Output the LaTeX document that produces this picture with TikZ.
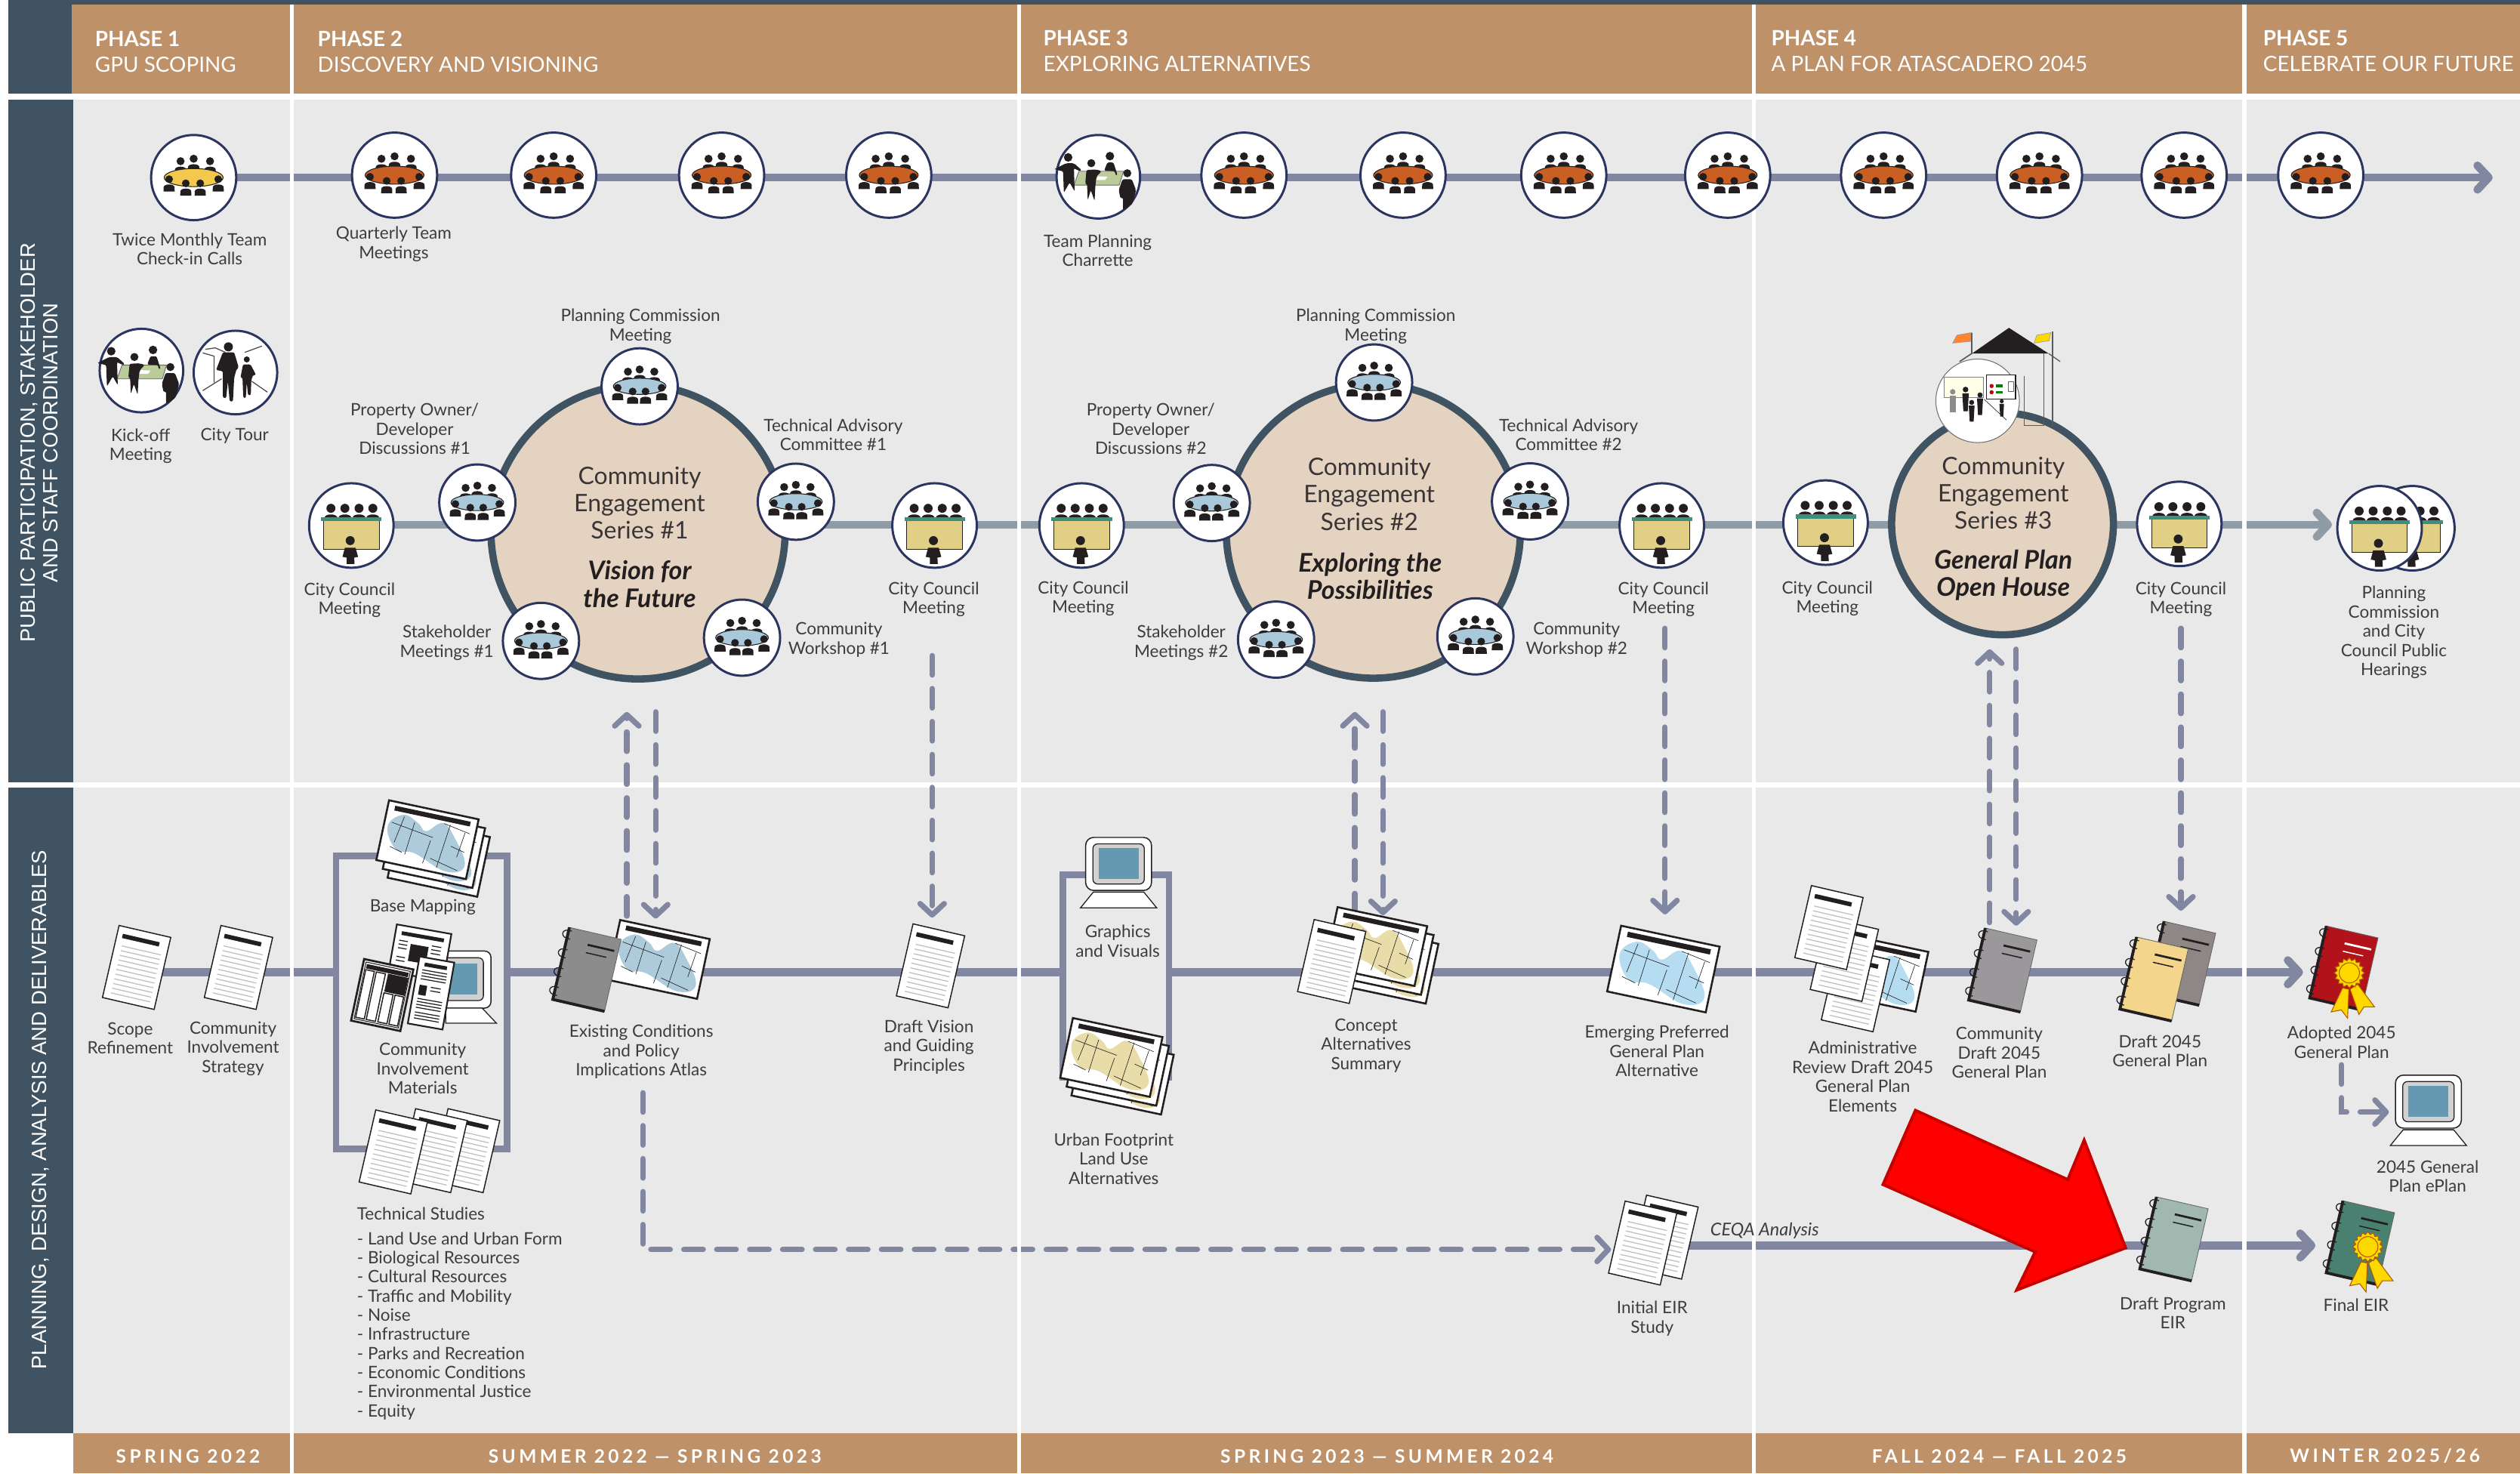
\documentclass[tikz,border=0pt]{standalone}
\usepackage{fontspec}
\setmainfont{Lato}
\newfontfamily\spacedfont[LetterSpace=18]{Lato}
\newfontfamily\sidefont{Liberation Sans}
\usetikzlibrary{arrows.meta,shapes.geometric}
\pgfdeclarelayer{panel}\pgfdeclarelayer{wire}\pgfdeclarelayer{stripe}
\pgfsetlayers{panel,wire,stripe,main}
\definecolor{ink}{HTML}{231F20}
\definecolor{navy}{HTML}{2B3560}
\definecolor{slate}{HTML}{3F5362}
\definecolor{tan}{HTML}{BE9169}
\definecolor{sand}{HTML}{E5D3C1}
\definecolor{pane}{HTML}{E9E9E9}
\definecolor{wirecol}{HTML}{8187A1}
\definecolor{wiregrey}{HTML}{8F9BA5}
\definecolor{labtext}{HTML}{3C3D40}
\definecolor{tyellow}{HTML}{F2C94C}
\definecolor{torange}{HTML}{C95F22}
\definecolor{tblue}{HTML}{A9C9DA}
\definecolor{khaki}{HTML}{E0CF85}
\definecolor{teal1}{HTML}{3F8F7F}
\definecolor{mapblue}{HTML}{AECBDC}
\definecolor{mapsky}{HTML}{B5DCF0}
\definecolor{mapyel}{HTML}{E8DCA8}
\definecolor{screen}{HTML}{6599B1}
\definecolor{gold}{HTML}{FFD800}
\definecolor{bkatlas}{HTML}{8C8C8C}
\definecolor{bkcd}{HTML}{9A989B}
\definecolor{bkdb}{HTML}{8F8686}
\definecolor{bkdf}{HTML}{F3D68B}
\definecolor{bkad}{HTML}{B21219}
\definecolor{bkde}{HTML}{A1B8B0}
\definecolor{bkfe}{HTML}{4A8070}
\definecolor{tablegreen}{HTML}{BBCC9A}
\tikzset{
 ppl/.pic={\fill[ink] (0,0) circle (1);
   \fill[ink] (-1.45,3.2) -- (-1.4,2) .. controls (-1.2,1.15) and (1.2,1.15) .. (1.4,2) -- (1.45,3.2) -- cycle;},
 stand/.pic={\fill[ink] (0,0) circle (.13);
   \fill[ink] (-.15,.17) -- (.15,.17) -- (.1,1) -- (-.1,1) -- cycle;},
 ring/.style={circle,draw=navy,fill=white,line width=1.4pt,inner sep=0pt},
 lab/.style={align=center,text=labtext,font=\fontsize{10.6}{12}\selectfont,inner sep=0pt},
 big/.style={align=center,text=ink!90,font=\fontsize{15}{17}\selectfont,inner sep=0pt},
 bigb/.style={align=center,text=ink,font=\fontsize{16}{17}\selectfont\bfseries\itshape,inner sep=0pt},
 head/.style={anchor=base west,text=white,inner sep=0pt,font=\fontsize{13.1}{14}\selectfont},
 headb/.style={head,font=\fontsize{13.1}{14}\selectfont\bfseries},
 foot/.style={text=white,inner sep=0pt,font=\fontsize{11.5}{13}\spacedfont\bfseries},
 side/.style={text=white,rotate=90,align=center,inner sep=0pt,font=\fontsize{12.9}{14}\sidefont},
 wireA/.style={draw=wirecol,line width=5pt},
 wireB/.style={draw=wiregrey,line width=5pt},
 dashy/.style={draw=wirecol,line width=3.4pt,line cap=round,dash pattern=on 12pt off 8.5pt},
 barb/.style={-{Straight Barb[length=7pt,width=15pt,round]}},
 community/.style={circle,draw=slate,fill=sand,line width=4.5pt,inner sep=0pt},
 sheet/.style={draw=ink,fill=white,line width=.7pt},
}
\newcommand{\MeetIcon}[5]{%
 \node[ring,minimum size=#4*2pt] (#1) at (#2,#3) {};
 \begin{scope}[shift={(#2,#3)},scale=#4/26]
  \foreach \a/\b in {-8/-10,0/-11.5,10/-10}{\pic[scale=2.5] at (\a,\b) {ppl};}
  \draw[fill=#5,draw=ink,line width=.5pt] (0,0) ellipse (18 and 5.5);
  \foreach \a/\b in {-15/1,15/1}{\pic[scale=2.4] at (\a,\b) {ppl};}
  \foreach \a/\b in {-4.8/3.5,4/3.5}{\pic[scale=2.4] at (\a,\b) {ppl};}
 \end{scope}}
\newcommand{\CouncilIcon}[3]{%
 \node[ring,minimum size=52.6pt] (#1) at (#2,#3) {};
 \begin{scope}[shift={(#2,#3)}]
  \foreach \a in {-12.7,-4,4.8,13.4}{\pic[scale=2.8] at (\a,-10.7) {ppl};}
  \draw[fill=khaki,draw=ink,line width=.5pt] (-17.3,-2.8) rectangle (17.3,14.8);
  \fill[teal1] (-18.7,-5) rectangle (18.9,-2.6);
  \fill[ink] (-.7,9.4) circle (2.8);
  \fill[ink] (-2.9,24) -- (-2.9,20) -- (-5.5,19.5) -- (-4,13.8) -- (2.6,13.8) -- (4.2,19.5) -- (1.8,20) -- (2,24) -- cycle;
 \end{scope}}
\newcommand{\GroupFig}[3]{%
 \node[ring,minimum size=52pt] (#1) at (#2,#3) {};
 \begin{scope}[shift={(#2,#3)},scale=.1566,shift={(-202,-212)}]
  \draw[fill=tablegreen,draw=black!60,line width=.4pt] (125,190) -- (302,190) -- (285,245) -- (105,245) -- cycle;
  \fill[white] (200,210) -- (238,212) -- (228,225) -- (192,225) -- cycle;
  \fill[ink] (82,135) circle (17);
  \fill[ink,rounded corners=1pt] (30,180) -- (75,158) -- (105,158) -- (135,185) -- (128,190) -- (105,178) -- (108,270) -- (88,235) -- (65,275) -- (62,190) -- (32,184) -- cycle;
  \fill[ink] (174,158) circle (16);
  \fill[ink,rounded corners=1pt] (155,185) -- (195,183) -- (215,190) -- (195,210) -- (190,250) -- (187,308) -- (172,265) -- (160,305) -- (157,240) -- (150,240) -- cycle;
  \fill[ink] (248,130) circle (17);
  \fill[ink,rounded corners=1pt] (238,155) -- (262,155) -- (278,205) -- (270,205) -- (268,190) -- (225,188) -- cycle;
  \fill[ink] (317,198) circle (16);
  \fill[ink,rounded corners=1pt] (298,222) -- (335,222) -- (352,265) -- (345,290) -- (338,320) -- (300,345) -- (300,295) -- (290,298) -- (283,265) -- cycle;
 \end{scope}}
\newcommand{\TourFig}[3]{%
 \node[ring,minimum size=52pt] (#1) at (#2,#3) {};
 \begin{scope}[shift={(#2,#3)},scale=.1566,shift={(-575,-220)}]
  \draw[black!70,line width=.6pt] (445,142) -- (490,155) -- (490,260);
  \draw[black!70,line width=.6pt] (455,128) -- (495,122) -- (535,140);
  \draw[black!70,line width=.6pt] (445,292) -- (520,245);
  \draw[black!70,line width=.6pt] (612,140) -- (680,115);
  \draw[black!70,line width=.6pt] (640,255) -- (702,298);
  \fill[ink] (547,118) circle (18);
  \fill[ink,rounded corners=1pt] (525,140) -- (570,140) -- (588,200) -- (580,205) -- (570,240) -- (565,335) -- (552,335) -- (545,255) -- (538,322) -- (525,320) -- (525,215) -- (498,210) -- cycle;
  \fill[ink] (620,168) circle (12);
  \fill[ink,rounded corners=1pt] (605,188) -- (635,188) -- (657,230) -- (645,230) -- (638,250) -- (636,310) -- (625,310) -- (620,260) -- (616,322) -- (606,320) -- (603,240) -- (595,240) -- cycle;
 \end{scope}}
\newcommand{\DocIcon}[3]{%
 \node[sheet,minimum width=33pt,minimum height=46pt,rotate=-13,inner sep=0pt] (#1) at (#2,#3) {};
 \begin{scope}[shift={(#2,#3)},rotate=-13]
  \fill[ink] (-13,-18.5) rectangle (10.5,-15.8);
  \foreach \y in {-11,-8,...,20}{\draw[black!25,line width=.6pt] (-12,\y) -- (13,\y);}
 \end{scope}}
\newcommand{\BookIcon}[5]{%
 \node[draw=black!60,fill=#4,line width=.4pt,minimum width=33pt,minimum height=46pt,rotate=-13,inner sep=0pt] (#1) at (#2,#3) {};
 \begin{scope}[shift={(#2,#3)},rotate=-13]
  \draw[ink,line width=1.8pt] (-16.5,-23) -- (-16.5,23) -- (16.5,23);
  \foreach \y in {-18,-6,6,18}{\draw[ink,line width=.6pt] (-14.5,\y-3) .. controls (-21.5,\y-4.5) and (-21.5,\y+3) .. (-14.5,\y+2);}
  \draw[#5,line width=1.3pt] (-3,-15) -- (14,-15);
  \draw[#5,line width=.7pt] (-3,-10) -- (10,-10);
 \end{scope}}
\newcommand{\Seal}[3]{%
 \begin{scope}[shift={(#2,#3)},scale=.1566,shift={(-122,-205)}]
  \draw[fill=gold,draw=orange!70!black,line width=.5pt] (95,265) -- (50,360) -- (90,352) -- (115,385) -- (120,270) -- cycle;
  \draw[fill=gold,draw=orange!70!black,line width=.5pt] (125,270) -- (160,370) -- (180,340) -- (222,340) -- (155,250) -- cycle;
 \end{scope}
 \node[star,star points=16,star point ratio=1.22,minimum size=18.8pt,inner sep=0pt,fill=gold,draw=orange!70!black,line width=.5pt] (#1) at (#2,#3) {};
 \draw[orange!70!black,line width=.5pt,fill=gold] (#2,#3) circle (6.3);}
\newcommand{\MapSheet}[4]{%
 \begin{scope}[shift={(#1,#2)},rotate=-12,scale=#4]
  \draw[draw=ink,fill=white,line width=1.2pt] (-28.5,-19) rectangle (28.5,19);
  \fill[#3] plot[smooth cycle,tension=.7] coordinates {(-26,-3) (-18,-12) (-8,-9) (-2,-5) (7,-12) (16,-5) (26,11) (15,17) (-6,10) (-18,10)};
  \foreach \p/\q/\r/\s in {-17/-11/-20/6,-10/-9/-12/12,2/0/0/15,12/-12/9/16,22/-9/20/7}{\draw[ink,line width=.3pt] (\p,\q) -- (\r,\s);}
  \draw[ink,line width=.3pt] (-24,-6) -- (3,-2);
  \draw[ink,line width=.3pt] (-22,9) -- (-14,11);
  \draw[ink,line width=.3pt] (8,-12) -- (25,-9);
  \draw[ink,line width=.3pt] (15,1) -- (24,3);
  \draw[ink,line width=.3pt] (4,11) -- (22,15);
  \fill[ink] (-24,-16.5) rectangle (24,-13.5);
 \end{scope}}
\newcommand{\MapStack}[4]{%
 \MapSheet{#2+7}{#3+11}{#4}{1}\MapSheet{#2+4}{#3+5.5}{#4}{1}\MapSheet{#2}{#3}{#4}{1}%
 \node[inner sep=0pt,minimum size=2pt] (#1) at (#2,#3) {};}
\newcommand{\CompIcon}[3]{%
 \node[draw=ink,fill=white,line width=.7pt,rounded corners=5pt,minimum width=41pt,minimum height=33pt,inner sep=0pt] (#1) at (#2,#3) {};
 \begin{scope}[shift={(#2,#3)}]
  \draw[draw=ink,fill=black!18,line width=.6pt,rounded corners=3pt] (-16,-12.5) rectangle (16,12.5);
  \fill[screen] (-12.5,-10) rectangle (12.5,9.5);
  \draw[draw=ink,fill=white,line width=.6pt] (-15.7,17.5) -- (15.7,17.5) -- (23.7,27.3) -- (-23.7,27.3) -- cycle;
 \end{scope}}
\begin{document}
\begin{tikzpicture}[x=1pt,y=-1pt]
\useasboundingbox (0,0) rectangle (1568,916.8);
\coordinate (L1) at (0,110.5);
\coordinate (L2) at (0,326.5);
\coordinate (L3) at (0,605);
\coordinate (L4) at (0,775);
%--- panels
\begin{pgfonlayer}{panel}
\fill[white] (0,0) rectangle (1568,916.8);
\fill[slate] (5,0) rectangle (1568,3);
\fill[slate] (5,0) rectangle (44.5,58.5);
\fill[tan] (44.5,3) rectangle (1568,58.5);
\fill[pane] (45.5,62) rectangle (1568,487);
\fill[pane] (45.5,490) rectangle (1568,892);
\fill[slate] (5,62) rectangle (45.5,487);
\fill[slate] (5,490) rectangle (45.5,892);
\fill[tan] (45.5,892) rectangle (1568,916.8);
\end{pgfonlayer}
\begin{pgfonlayer}{stripe}
\foreach \a/\b in {180.5/183,633/635.5,1090/1092.5,1395/1398}{\fill[white] (\a,3) rectangle (\b,916.8);}
\end{pgfonlayer}
%--- headers
\node[headb] (p1) at (59,29) {PHASE 1};
\node[head] (p1b) at (59,45) {GPU SCOPING};
\node[headb] (p2) at (197.5,29) {PHASE 2};
\node[head] (p2b) at (197.5,45) {DISCOVERY AND VISIONING};
\node[headb] (p3) at (649,28.5) {PHASE 3};
\node[head] (p3b) at (649,44.5) {EXPLORING ALTERNATIVES};
\node[headb] (p4) at (1102,28.5) {PHASE 4};
\node[head] (p4b) at (1102,44.5) {A PLAN FOR ATASCADERO 2045};
\node[headb] (p5) at (1408,28.5) {PHASE 5};
\node[head] (p5b) at (1408,44.5) {CELEBRATE OUR FUTURE};
\node[foot] (f1) at (117,906) {SPRING 2022};
\node[foot] (f2) at (407.5,906) {SUMMER 2022 — SPRING 2023};
\node[foot] (f3) at (863,906) {SPRING 2023 — SUMMER 2024};
\node[foot] (f4) at (1244,906) {FALL 2024 — FALL 2025};
\node[foot] (f5) at (1484,906) {WINTER 2025/26};
\node[side] (s1) at (24.5,275.5) {PUBLIC PARTICIPATION, STAKEHOLDER\\AND STAFF COORDINATION};
\node[side] (s2) at (25,690.5) {PLANNING, DESIGN, ANALYSIS AND DELIVERABLES};
%--- row 1
\MeetIcon{tw}{120.5}{110.5}{26.5}{tyellow}
\MeetIcon{q1}{245.5}{109}{26.5}{torange}
\MeetIcon{q2}{344.5}{109}{26.5}{torange}
\MeetIcon{q3}{449}{109}{26.5}{torange}
\MeetIcon{q4}{553}{109}{26.5}{torange}
\GroupFig{ch}{683.4}{110}
\MeetIcon{q5}{774}{109}{26.5}{torange}
\MeetIcon{q6}{873}{109}{26.5}{torange}
\MeetIcon{q7}{973}{109}{26.5}{torange}
\MeetIcon{q8}{1075}{109}{26.5}{torange}
\MeetIcon{q9}{1172}{109}{26.5}{torange}
\MeetIcon{q10}{1269}{109}{26.5}{torange}
\MeetIcon{q11}{1359}{109}{26.5}{torange}
\MeetIcon{q12}{1444}{109}{26.5}{torange}
\coordinate (endA) at (1551,110.5);
\GroupFig{kick}{88}{230.6}
\TourFig{tour}{146.5}{231.8}
\node[lab] (ltw) at (118,155) {Twice Monthly Team\\Check-in Calls};
\node[lab] (lq) at (245,152) {Quarterly Team\\Meetings};
\node[lab] (lch) at (683,156) {Team Planning\\Charrette};
\node[lab] (lkick) at (87.5,277.5) {Kick-off\\Meeting};
\node[lab] (ltour) at (146,271) {City Tour};
%--- community 1
\node[community,minimum size=183pt] (cA) at (397,331) {};
\node[big] (cAt) at (398,313) {Community\\Engagement\\Series \#1};
\node[bigb] (cAb) at (398,363.5) {Vision for\\the Future};
\MeetIcon{a1}{398}{240.4}{23.7}{tblue}
\MeetIcon{a2}{297}{312.7}{23.7}{tblue}
\MeetIcon{a3}{495.2}{312.2}{23.7}{tblue}
\MeetIcon{a4}{336.6}{398.8}{23.7}{tblue}
\MeetIcon{a5}{461.7}{396.8}{23.7}{tblue}
\CouncilIcon{cc1}{218.6}{327}
\CouncilIcon{cc2}{581.5}{327}
\node[lab] (la1) at (398.5,203) {Planning Commission\\Meeting};
\node[lab] (la2) at (258,267) {Property Owner/\\Developer\\Discussions \#1};
\node[lab] (la3) at (518.5,270.5) {Technical Advisory\\Committee \#1};
\node[lab] (la4) at (278,400) {Stakeholder\\Meetings \#1};
\node[lab] (la5) at (522,398) {Community\\Workshop \#1};
\node[lab] (lc1) at (217.5,373.5) {City Council\\Meeting};
\node[lab] (lc2) at (581,373) {City Council\\Meeting};
%--- community 2
\node[community,minimum size=183pt] (cB) at (854.5,330.5) {};
\node[big] (cBt) at (852,307.5) {Community\\Engagement\\Series \#2};
\node[bigb] (cBb) at (852.5,358.5) {Exploring the\\Possibilities};
\MeetIcon{b1}{855}{238}{23.7}{tblue}
\MeetIcon{b2}{754}{313}{23.7}{tblue}
\MeetIcon{b3}{952}{312}{23.7}{tblue}
\MeetIcon{b4}{794}{398}{23.7}{tblue}
\MeetIcon{b5}{918}{396}{23.7}{tblue}
\CouncilIcon{cc3}{673}{327}
\CouncilIcon{cc4}{1034}{327}
\node[lab] (lb1) at (856,203) {Planning Commission\\Meeting};
\node[lab] (lb2) at (716,267) {Property Owner/\\Developer\\Discussions \#2};
\node[lab] (lb3) at (976,270.5) {Technical Advisory\\Committee \#2};
\node[lab] (lb4) at (735,400) {Stakeholder\\Meetings \#2};
\node[lab] (lb5) at (981,398) {Community\\Workshop \#2};
\node[lab] (lc3) at (674,372.5) {City Council\\Meeting};
\node[lab] (lc4) at (1035,373) {City Council\\Meeting};
%--- community 3
\node[community,minimum size=138pt] (cC) at (1246,326) {};
\node[big] (cCt) at (1246.5,306.7) {Community\\Engagement\\Series \#3};
\node[bigb] (cCb) at (1246.5,358) {General Plan\\Open House};
\fill[ink] (1250,204) -- (1227,220) -- (1274.7,220) -- cycle;
\draw[black!65,line width=.8pt] (1226.8,207) -- (1226.8,220) -- (1219.3,225);
\draw[black!65,line width=.8pt] (1277,206.5) -- (1277,265.4);
\draw[black!65,line width=.6pt] (1274.7,220) -- (1281.9,225);
\draw[black!65,line width=.6pt] (1271.6,220) -- (1271.6,264.7) -- (1259.5,264.7) -- (1259.5,234);
\draw[fill=orange!80!red!80,draw=black!40,line width=.3pt] (1226.3,207) -- (1217.6,208.6) -- (1215,213.5) -- (1226.3,212.4) -- cycle;
\draw[fill=gold,draw=black!40,line width=.3pt] (1276,207) -- (1267.3,208.6) -- (1265.7,213.5) -- (1275,212) -- cycle;
\node[circle,draw=black!55,fill=white,line width=.5pt,minimum size=52pt,inner sep=0pt] (oh) at (1230.5,249.4) {};
\begin{scope}[shift={(1230.5,249.4)}]
 \draw[fill=yellow!10,draw=black!50,line width=.4pt] (-20.8,-14.8) rectangle (3.4,-2);
 \draw[fill=white,draw=ink,line width=.5pt] (5.6,-16) rectangle (23.6,-1);
 \foreach \y in {-9.2,-5.3}{\fill[red!80!black] (8.7,\y) circle (1.3);
   \fill[green!50!black] (11.5,\y-.8) rectangle (15.5,\y+.8);}
 \draw[black!60,line width=.3pt] (19,-12) rectangle (22.5,-6);
 \draw[black!70,line width=.4pt] (4,-1) -- (18,12);
 \fill[black!45] (-15.5,-5.6) circle (1.7);
 \fill[black!45] (-17.5,-3) rectangle (-13.5,7);
 \pic[scale=13.5] at (-7.5,-7) {stand};
 \pic[scale=12.5] at (1.5,-3.6) {stand};
 \pic[scale=12] at (-3.7,1) {stand};
 \pic[scale=9.5] at (15,.3) {stand};
\end{scope}
\CouncilIcon{cc5}{1135.9}{325.2}
\CouncilIcon{cc6}{1356}{326}
\node[lab] (lc5) at (1137,372.5) {City Council\\Meeting};
\node[lab] (lc6) at (1357,373) {City Council\\Meeting};
\CouncilIcon{ccB}{1501}{328.7}
\CouncilIcon{ccF}{1480.6}{328.7}
\node[lab] (lpc) at (1489.5,393.5) {Planning\\Commission\\and City\\Council Public\\Hearings};
\coordinate (endB) at (1451,326.5);
%--- deliverables row
\DocIcon{scope}{85}{602}
\DocIcon{cis}{148.4}{602}
\node[lab] (lscope) at (81,646) {Scope\\Refinement};
\node[lab] (lcis) at (145,652.5) {Community\\Involvement\\Strategy};
\MapStack{bm}{266}{522.5}{mapblue}
\node[lab] (lbm) at (263,564.5) {Base Mapping};
\node[lab] (lmat) at (263,665) {Community\\Involvement\\Materials};
\begin{scope}[shift={(263.2,609.3)},scale=.1566,shift={(-330,-230)}]
 \draw[draw=ink,fill=white,line width=.7pt,rounded corners=4pt] (400,118) rectangle (600,345);
 \draw[draw=ink,fill=black!18,line width=.6pt,rounded corners=3pt] (410,145) rectangle (570,315);
 \fill[screen] (420,168) rectangle (545,290);
 \draw[draw=ink,fill=white,line width=.6pt] (420,345) -- (565,345) -- (622,405) -- (420,405) -- cycle;
 \begin{scope}[shift={(318,125)},rotate=-10]
  \draw[draw=ink,fill=white,line width=1pt] (-110,-95) rectangle (110,95);
  \fill[ink] (-85,-72) rectangle (85,-57);
  \fill[ink] (-42,-28) rectangle (30,40);
  \foreach \y in {-35,-20,-5,30,45}{\draw[ink,line width=.6pt] (-90,\y) -- (-55,\y);\draw[ink,line width=.6pt] (42,\y) -- (80,\y);}
 \end{scope}
 \begin{scope}[shift={(168,293)},rotate=-12]
  \draw[draw=ink,fill=white,line width=1.3pt] (-100,-125) rectangle (100,125);
  \draw[ink,line width=.5pt] (-90,-115) rectangle (90,115);
  \fill[ink] (-85,-108) rectangle (85,-90);
  \fill[ink] (5,-88) rectangle (88,-15);
  \foreach \a/\b/\c in {-85/-50/-85,-42/-5/-85,5/42/-10,50/85/-10}{\draw[ink,line width=.7pt] (\a,\c) rectangle (\b,108);}
 \end{scope}
 \begin{scope}[shift={(362,285)},rotate=-10]
  \draw[draw=ink,fill=white,line width=1pt] (-70,-135) rectangle (70,135);
  \fill[ink] (-45,-115) rectangle (45,-100);
  \foreach \y in {-85,-73,-61,-49,30,42,54,66,85,97,109}{\draw[ink,line width=.6pt] (-50,\y) -- (50,\y);}
  \fill[ink] (-50,-25) rectangle (-20,15);
  \foreach \y in {-22,-8}{\draw[ink,line width=.6pt] (-5,\y) -- (35,\y);}
 \end{scope}
\end{scope}
\node[inner sep=0pt,minimum size=2pt] (mat) at (263,609) {};
\DocIcon{ts3}{289.7}{716}
\DocIcon{ts2}{269.5}{716}
\DocIcon{ts1}{244.7}{716.8}
\node[lab,anchor=west] (lts) at (222,755) {Technical Studies};
\node[lab,anchor=north west,align=left,font=\fontsize{10.6}{11.9}\selectfont] (ltl) at (222,766.5) {- Land Use and Urban Form\\- Biological Resources\\- Cultural Resources\\- Traffic and Mobility\\- Noise\\- Infrastructure\\- Parks and Recreation\\- Economic Conditions\\- Environmental Justice\\- Equity};
\MapSheet{409.8}{597}{mapblue}{1}
\node[inner sep=0pt,minimum size=2pt] (atlasm) at (409.8,597) {};
\BookIcon{atlas}{365.2}{603.2}{bkatlas}{ink}
\node[lab] (latlas) at (399,654.5) {Existing Conditions\\and Policy\\Implications Atlas};
\DocIcon{vis}{579}{601}
\node[lab] (lvis) at (578,651.5) {Draft Vision\\and Guiding\\Principles};
\CompIcon{gfx}{696}{537.6}
\node[lab] (lgfx) at (695.5,585.5) {Graphics\\and Visuals};
\MapStack{uf}{691.5}{658}{mapyel}
\node[lab] (luf) at (693,721) {Urban Footprint\\Land Use\\Alternatives};
\MapStack{cam}{856.2}{589}{mapyel}
\DocIcon{ca}{828.6}{598.3}
\node[lab] (lca) at (850,650.5) {Concept\\Alternatives\\Summary};
\MapSheet{1035}{603}{mapsky}{1.1}
\node[inner sep=0pt,minimum size=2pt] (epg) at (1035,603) {};
\node[lab] (lepg) at (1031,654) {Emerging Preferred\\General Plan\\Alternative};
\MapSheet{1168}{605}{mapsky}{1}
\DocIcon{ar3}{1154.5}{615.9}
\DocIcon{ar2}{1147.6}{597}
\DocIcon{ar1}{1138}{577.2}
\node[lab] (lar) at (1159,670) {Administrative\\Review Draft 2045\\General Plan\\Elements};
\BookIcon{cd}{1246.2}{603.6}{bkcd}{ink}
\node[lab] (lcd) at (1244,655) {Community\\Draft 2045\\General Plan};
\BookIcon{db}{1357.4}{599.4}{bkdb}{ink}
\BookIcon{df}{1340.3}{609.2}{bkdf}{ink}
\node[lab] (ldf) at (1344,654) {Draft 2045\\General Plan};
\BookIcon{ad}{1458.4}{602.3}{bkad}{white}
\Seal{adseal}{1461.8}{605.4}
\node[lab] (lad) at (1457,648.5) {Adopted 2045\\General Plan};
\coordinate (endC) at (1433,605);
\CompIcon{ep}{1511}{685.5}
\node[lab] (lep) at (1510.5,732) {2045 General\\Plan ePlan};
%--- EIR row
\DocIcon{ie2}{1035.4}{769.8}
\DocIcon{ie1}{1022.1}{773.5}
\node[lab] (lie) at (1028,820.5) {Initial EIR\\Study};
\node[lab,font=\fontsize{11}{12}\selectfont\itshape] (lceqa) at (1098,766) {CEQA Analysis};
\BookIcon{de}{1352.7}{770.9}{bkde}{ink}
\node[lab] (lde) at (1352,817) {Draft Program\\EIR};
\BookIcon{fe}{1468.7}{773.3}{bkfe}{ink}
\Seal{feseal}{1473.3}{775.8}
\node[lab] (lfe) at (1466,812) {Final EIR};
\coordinate (endD) at (1440.7,775);
%--- red pointer
\draw[fill=red,draw=red!78!black,line width=1.8pt,miter limit=10] (1191.8,690.9) -- (1286.6,734) -- (1296.8,709.4) -- (1322.6,776.5) -- (1254.8,802.8) -- (1266.3,779) -- (1171.6,737.1) -- cycle;
%--- connectors
\begin{pgfonlayer}{wire}
\foreach \a/\b in {tw/q1,q1/q2,q2/q3,q3/q4,q4/ch,ch/q5,q5/q6,q6/q7,q7/q8,q8/q9,q9/q10,q10/q11,q11/q12}{\draw[wireA] (\a.center |- L1) -- (\b.center |- L1);}
\draw[wireA,barb] (q12.center |- L1) -- (endA);
\foreach \a/\b in {cc1/cA,cA/cc2,cc2/cc3,cc3/cB,cB/cc4,cc4/cc5,cc5/cC,cC/cc6}{\draw[wireB] (\a.center |- L2) -- (\b.center |- L2);}
\draw[wireB,barb] (cc6.center |- L2) -- (endB);
\node[draw=wirecol,line width=4pt,minimum width=106.6pt,minimum height=182.5pt,inner sep=0pt] (brA) at (262.3,623.75) {};
\node[draw=wirecol,line width=4pt,minimum width=65.9pt,minimum height=126pt,inner sep=0pt] (brB) at (694.35,607.3) {};
\draw[wireA] (scope.center |- L3) -- (cis.center |- L3);
\draw[wireA] (cis.center |- L3) -- (brA.west |- L3);
\draw[wireA] (brA.east |- L3) -- (atlas.center |- L3);
\foreach \a/\b in {atlas/vis}{\draw[wireA] (\a.center |- L3) -- (\b.center |- L3);}
\draw[wireA] (vis.center |- L3) -- (brB.west |- L3);
\draw[wireA] (brB.east |- L3) -- (ca.center |- L3);
\foreach \a/\b in {ca/epg,epg/ar2,ar2/cd,cd/df}{\draw[wireA] (\a.center |- L3) -- (\b.center |- L3);}
\draw[wireA,barb] (df.center |- L3) -- (endC);
\draw[wireA] (ie1.center |- L4) -- (de.center |- L4);
\draw[wireA,barb] (de.center |- L4) -- (endD);
\coordinate (dA0) at (390,570); \coordinate (dA1) at (390,443);
\coordinate (dB0) at (408,443); \coordinate (dB1) at (408,571.6);
\coordinate (dC0) at (580,408); \coordinate (dC1) at (580,571);
\coordinate (dD0) at (400,680); \coordinate (dD1) at (400,777.5); \coordinate (dD2) at (1002.4,777.5);
\coordinate (dE0) at (843,568); \coordinate (dE1) at (843,443);
\coordinate (dF0) at (860.5,443); \coordinate (dF1) at (860.5,569.5);
\coordinate (dG0) at (1036,391); \coordinate (dG1) at (1036,569);
\coordinate (dH0) at (1238,574); \coordinate (dH1) at (1238,404);
\coordinate (dI0) at (1254.5,404); \coordinate (dI1) at (1254.5,576);
\coordinate (dJ0) at (1357,391); \coordinate (dJ1) at (1357,566.7);
\coordinate (dK0) at (1457,662.6); \coordinate (dK1) at (1457,692); \coordinate (dK2) at (1486.4,692);
\foreach \a/\b in {dA0/dA1,dB0/dB1,dC0/dC1,dE0/dE1,dF0/dF1,dG0/dG1,dH0/dH1,dI0/dI1,dJ0/dJ1}{\draw[dashy,barb] (\a) -- (\b);}
\draw[dashy,barb] (dD0) -- (dD1) -- (dD2);
\draw[dashy,barb] (dK0) -- (dK1) -- (dK2);
\end{pgfonlayer}
\end{tikzpicture}
\end{document}
